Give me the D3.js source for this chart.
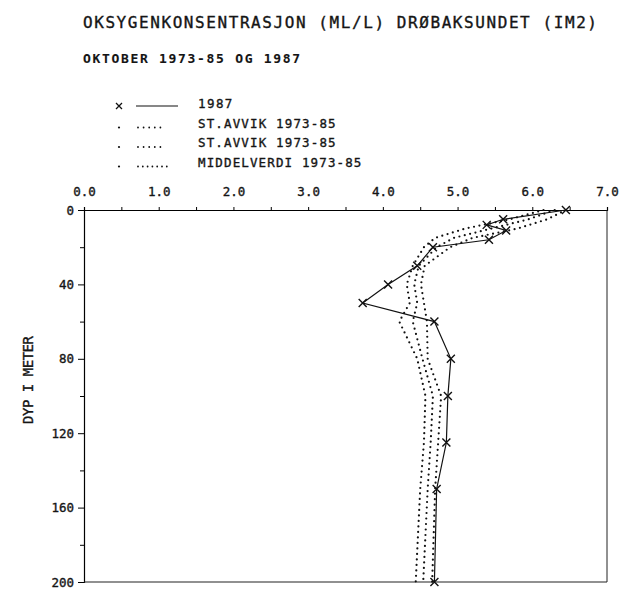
<!DOCTYPE html>
<html>
<head>
<meta charset="utf-8">
<script src="https://cdn.jsdelivr.net/npm/d3@7"></script>
<style>
body { margin: 0; background: #fff; }
text { font-family: 'DejaVu Sans Mono', monospace; fill: #151515; stroke: #151515; stroke-width: 0.35px; }
</style>
</head>
<body>
<div id="chart"></div>
<script>
// values
let depths1987 = [0, 5, 8, 11, 16, 20, 30, 40, 50, 60, 80, 100, 125, 150, 200];
let oxygen1987 = [6.45, 5.61, 5.39, 5.65, 5.42, 4.67, 4.46, 4.07, 3.73, 4.69, 4.91, 4.87, 4.85, 4.72, 4.69];

let statDepths = [0, 5, 10, 15, 20, 30, 40, 50, 60, 80, 100, 125, 150, 200];
let sdHigh = [6.45, 6.2, 5.8, 5.2, 4.9, 4.56, 4.51, 4.55, 4.59, 4.6, 4.78, 4.74, 4.7, 4.66];
let meanVal = [6.3, 5.95, 5.45, 4.95, 4.72, 4.48, 4.42, 4.46, 4.4, 4.53, 4.67, 4.64, 4.6, 4.54];
let sdLow = [6.15, 5.7, 5.1, 4.7, 4.55, 4.4, 4.32, 4.36, 4.22, 4.46, 4.57, 4.55, 4.5, 4.44];

let xTicks = [0, 1, 2, 3, 4, 5, 6, 7];
let yTicks = [0, 40, 80, 120, 160, 200];
let legendNames = ['1987', 'ST.AVVIK 1973-85', 'ST.AVVIK 1973-85', 'MIDDELVERDI 1973-85'];

let width = 624;
let height = 590;

let svg = d3.select('#chart')
    .append('svg')
    .attr('width', width)
    .attr('height', height);

let x = d3.scaleLinear().domain([0, 7]).range([84, 607]);
let y = d3.scaleLinear().domain([0, 200]).range([210, 582]);

// titles
svg.append('text')
    .text('OKSYGENKONSENTRASJON  (ML/L)  DRØBAKSUNDET  (IM2)')
    .attr('x', 83)
    .attr('y', 28)
    .attr('textLength', 514)
    .attr('lengthAdjust', 'spacing')
    .style('font-size', '16px');

svg.append('text')
    .text('OKTOBER 1973-85 OG 1987')
    .attr('x', 83)
    .attr('y', 63)
    .attr('textLength', 217)
    .attr('lengthAdjust', 'spacing')
    .style('font-size', '13px')
    .style('font-weight', 'bold')
    .style('stroke-width', '0.1px');

// legend
let legend = svg.selectAll('.legend')
    .data(legendNames)
    .enter()
    .append('g')
    .attr('class', 'legend')
    .attr('transform', (d, i) => `translate(0, ${104 + i * 19.5})`);

legend.append('text')
    .text(d => d)
    .attr('x', 198)
    .attr('y', 4)
    .attr('textLength', d => d.length * 8.6)
    .attr('lengthAdjust', 'spacing')
    .style('font-size', '12.5px');

legend.filter((d, i) => i === 0)
    .append('path')
    .attr('d', 'M116,-1L122,5M122,-1L116,5')
    .attr('stroke', '#111')
    .attr('stroke-width', 1.3);

legend.filter((d, i) => i === 0)
    .append('line')
    .attr('x1', 136).attr('x2', 178)
    .attr('y1', 2).attr('y2', 2)
    .attr('stroke', '#111')
    .attr('stroke-width', 1.2);

legend.filter((d, i) => i > 0)
    .append('circle')
    .attr('cx', 119)
    .attr('cy', 4)
    .attr('r', 1.1)
    .attr('fill', '#111');

legend.filter((d, i) => i > 0)
    .append('line')
    .attr('x1', 138).attr('x2', (d, i) => i === 2 ? 168 : 161)
    .attr('y1', 4).attr('y2', 4)
    .attr('stroke', '#111')
    .attr('stroke-width', 1.8)
    .attr('stroke-linecap', 'round')
    .attr('stroke-dasharray', (d, i) => i === 2 ? '0,4.8' : '0,5.6');

// axes
svg.append('g')
    .attr('transform', 'translate(0,210)')
    .call(d3.axisTop(x).tickValues(d3.range(0, 7.01, 0.5)).tickSize(3).tickFormat(''))
    .call(g => g.select('.domain').attr('stroke-width', 1.2));

svg.append('g')
    .attr('transform', 'translate(0,210)')
    .call(d3.axisTop(x).tickValues(xTicks).tickSize(0).tickPadding(14).tickFormat(d3.format('.1f')))
    .call(g => g.select('.domain').remove())
    .selectAll('text')
    .style('font-size', '12.5px')
    .style('font-family', "'DejaVu Sans Mono', monospace")
    .attr('fill', '#151515');

svg.append('g')
    .attr('transform', 'translate(84,0)')
    .call(d3.axisLeft(y).tickValues(d3.range(20, 200, 40)).tickSize(4).tickFormat(''))
    .call(g => g.select('.domain').attr('stroke-width', 1.2));

svg.append('g')
    .attr('transform', 'translate(84,0)')
    .call(d3.axisLeft(y).tickValues(yTicks).tickSize(6).tickPadding(4))
    .call(g => g.select('.domain').remove())
    .selectAll('text')
    .style('font-size', '12.5px')
    .style('font-family', "'DejaVu Sans Mono', monospace")
    .attr('fill', '#151515');

// right and bottom frame
svg.append('line')
    .attr('x1', x(7)).attr('x2', x(7))
    .attr('y1', y(0)).attr('y2', y(200))
    .attr('stroke', '#222');
svg.append('line')
    .attr('x1', x(0)).attr('x2', x(7))
    .attr('y1', y(200)).attr('y2', y(200))
    .attr('stroke', '#222')
    .attr('stroke-width', 1.2);

svg.append('text')
    .text('DYP I METER')
    .attr('transform', 'translate(33,380) rotate(-90)')
    .attr('text-anchor', 'middle')
    .attr('textLength', 88)
    .attr('lengthAdjust', 'spacing')
    .style('font-size', '14px');

// dotted std/mean profiles
let statLine = d3.line()
    .x(d => x(d[0]))
    .y(d => y(d[1]));

[sdHigh, meanVal, sdLow].forEach(vals => {
    svg.append('path')
        .datum(vals.map((v, i) => [v, statDepths[i]]))
        .attr('d', statLine)
        .attr('fill', 'none')
        .attr('stroke', '#111')
        .attr('stroke-width', 2.2)
        .attr('stroke-linecap', 'round')
        .attr('stroke-dasharray', '0,5.5');
});

// 1987 profile
let pts = oxygen1987.map((v, i) => [v, depths1987[i]]);

svg.append('path')
    .datum(pts)
    .attr('d', statLine)
    .attr('fill', 'none')
    .attr('stroke', '#111')
    .attr('stroke-width', 1.2);

svg.selectAll('.mark')
    .data(pts)
    .enter()
    .append('path')
    .attr('class', 'mark')
    .attr('d', d => {
        let cx = x(d[0]), cy = y(d[1]);
        return `M${cx - 4},${cy - 4}L${cx + 4},${cy + 4}M${cx + 4},${cy - 4}L${cx - 4},${cy + 4}`;
    })
    .attr('stroke', '#111')
    .attr('stroke-width', 1.4);
</script>
</body>
</html>
